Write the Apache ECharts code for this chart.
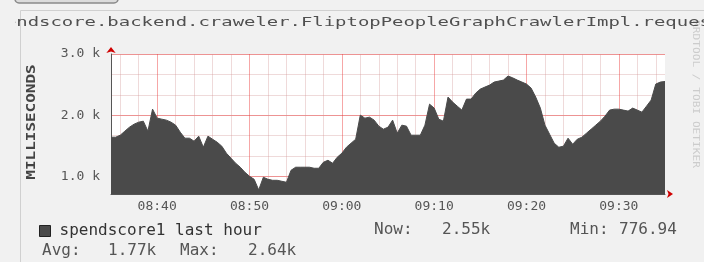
<!DOCTYPE html>
<html>
<head>
<meta charset="utf-8">
<title>spendscore1 last hour</title>
<script src="https://cdn.jsdelivr.net/npm/echarts@6/dist/echarts.min.js"></script>
<style>
    html, body { margin: 0; padding: 0; background: #f1f1f1; }
    #chart { width: 704px; height: 262px; }
</style>
</head>
<body>
<div id="chart"></div>
<script>
// sample times, one every 30s over the last hour
var times = [
    '08:35:00','08:35:30','08:36:00','08:36:30','08:37:00','08:37:30','08:38:00','08:38:30','08:39:00','08:39:30',
    '08:40:00','08:40:30','08:41:00','08:41:30','08:42:00','08:42:30','08:43:00','08:43:30','08:44:00','08:44:30',
    '08:45:00','08:45:30','08:46:00','08:46:30','08:47:00','08:47:30','08:48:00','08:48:30','08:49:00','08:49:30',
    '08:50:00','08:50:30','08:51:00','08:51:30','08:52:00','08:52:30','08:53:00','08:53:30','08:54:00','08:54:30',
    '08:55:00','08:55:30','08:56:00','08:56:30','08:57:00','08:57:30','08:58:00','08:58:30','08:59:00','08:59:30',
    '09:00:00','09:00:30','09:01:00','09:01:30','09:02:00','09:02:30','09:03:00','09:03:30','09:04:00','09:04:30',
    '09:05:00','09:05:30','09:06:00','09:06:30','09:07:00','09:07:30','09:08:00','09:08:30','09:09:00','09:09:30',
    '09:10:00','09:10:30','09:11:00','09:11:30','09:12:00','09:12:30','09:13:00','09:13:30','09:14:00','09:14:30',
    '09:15:00','09:15:30','09:16:00','09:16:30','09:17:00','09:17:30','09:18:00','09:18:30','09:19:00','09:19:30',
    '09:20:00','09:20:30','09:21:00','09:21:30','09:22:00','09:22:30','09:23:00','09:23:30','09:24:00','09:24:30',
    '09:25:00','09:25:30','09:26:00','09:26:30','09:27:00','09:27:30','09:28:00','09:28:30','09:29:00','09:29:30',
    '09:30:00','09:30:30','09:31:00','09:31:30','09:32:00','09:32:30','09:33:00','09:33:30','09:34:00','09:34:30',
    '09:35:00'
];
// milliseconds
var latency = [
    1639, 1639, 1672, 1738, 1803, 1852, 1885, 1901, 1738, 2098,
    1951, 1934, 1918, 1885, 1836, 1721, 1623, 1623, 1574, 1656,
    1475, 1656, 1606, 1557, 1492, 1377, 1295, 1213, 1148, 1066,
    1000,  951,  777,  984,  951,  934,  934,  918,  902, 1098,
    1148, 1148, 1148, 1148, 1131, 1131, 1229, 1262, 1213, 1311,
    1377, 1475, 1541, 1606, 2000, 1951, 1967, 1918, 1820, 1770,
    1803, 1918, 1705, 1836, 1820, 1672, 1672, 1672, 1836, 2180,
    2115, 1934, 1901, 2295, 2213, 2147, 2082, 2262, 2262, 2360,
    2426, 2459, 2491, 2541, 2557, 2573, 2640, 2610, 2573, 2541,
    2508, 2442, 2295, 2115, 1836, 1688, 1541, 1475, 1492, 1623,
    1524, 1606, 1639, 1705, 1770, 1836, 1901, 1983, 2082, 2098,
    2098, 2082, 2066, 2115, 2082, 2049, 2147, 2246, 2508, 2541,
    2550
];
var yTickLabels = ['3.0 k', '2.0 k', '1.0 k'];
var yMin = 710, yMax = 3000;
var seriesName = 'spendscore1 last hour';
var statNames = ['Now:', 'Min:', 'Avg:', 'Max:'];
var statValues = ['2.55k', '776.94', '1.77k', '2.64k'];

var mono = 'DejaVu Sans Mono';
var minorColor = 'rgba(210,150,150,0.35)';
var majorColor = 'rgba(235,60,60,0.45)';
var areaColor = '#4a4a4a';

function minuteOf(v) { return parseInt(v.slice(3, 5), 10); }
function onMinute(v) { return v.slice(6) === '00'; }

var myChart = echarts.init(document.getElementById('chart'));
var option = {
    backgroundColor: '#f1f1f1',
    animation: false,
    grid: {
        left: 111, top: 54, width: 554, height: 140,
        show: true, backgroundColor: '#ffffff', borderWidth: 0
    },
    legend: {
        data: [seriesName],
        left: 39, top: 223, padding: 0,
        icon: 'rect', itemWidth: 11, itemHeight: 11,
        itemStyle: { borderColor: '#222', borderWidth: 1 },
        textStyle: { fontFamily: mono, fontSize: 16, color: '#333', padding: [0, 0, 0, 4] }
    },
    xAxis: [
        {   // major grid (every 10 minutes) + red arrow
            type: 'category',
            position: 'bottom',
            data: times,
            boundaryGap: false,
            axisLine: {
                show: true, onZero: false,
                symbol: ['none', 'arrow'], symbolSize: [6, 6], symbolOffset: [0, 8],
                lineStyle: { color: '#d00000', width: 0 }
            },
            axisTick: { show: false },
            axisLabel: { show: false },
            splitLine: {
                show: true,
                interval: function (i, v) { return onMinute(v) && minuteOf(v) % 10 === 0; },
                lineStyle: { color: majorColor, width: 1 }
            }
        },
        {   // labels + minor grid (every 2 minutes) + axis line
            type: 'category',
            position: 'bottom',
            data: times,
            boundaryGap: false,
            axisLine: { show: true, onZero: false, lineStyle: { color: '#555', width: 1 } },
            axisTick: { show: false },
            axisLabel: {
                interval: function (i, v) { return onMinute(v) && minuteOf(v) % 10 === 0; },
                formatter: function (v) { return v.slice(0, 5); },
                fontFamily: mono, fontSize: 13, color: '#555', margin: 6
            },
            splitLine: {
                show: true,
                interval: function (i, v) { return onMinute(v) && minuteOf(v) % 2 === 0 && minuteOf(v) % 10 !== 0; },
                lineStyle: { color: minorColor, width: 1 }
            }
        }
    ],
    yAxis: [
        {   // data axis
            type: 'value',
            position: 'left',
            min: yMin, max: yMax,
            axisLine: {
                show: true, onZero: false,
                symbol: ['none', 'arrow'], symbolSize: [7, 6], symbolOffset: [0, 7],
                lineStyle: { color: '#d00000', width: 0 }
            },
            axisTick: { show: false },
            axisLabel: { show: false },
            splitLine: { show: false }
        },
        {   // minor grid, counted down from the top
            type: 'value',
            position: 'left',
            inverse: true,
            min: 0, max: yMax - yMin, interval: 1000 / 3,
            axisLine: { show: false, onZero: false },
            axisTick: { show: false },
            axisLabel: { show: false },
            splitLine: { show: true, showMaxLine: false, lineStyle: { color: minorColor, width: 1 } }
        },
        {   // major grid + labels
            type: 'value',
            position: 'left',
            inverse: true,
            min: 0, max: yMax - yMin, interval: 1000,
            axisLine: { show: true, onZero: false, lineStyle: { color: '#555', width: 1 } },
            axisTick: { show: false },
            axisLabel: {
                formatter: function (v, i) { return i < yTickLabels.length ? yTickLabels[i] : ''; },
                fontFamily: mono, fontSize: 13, color: '#555', margin: 11
            },
            splitLine: { show: true, showMaxLine: false, lineStyle: { color: majorColor, width: 1 } }
        }
    ],
    graphic: [
        // page frame bits
        { type: 'rect', shape: { x: 15, y: -10, width: 103, height: 13, r: 4 },
          style: { fill: '#dcdcdc', stroke: '#8a8a8a', lineWidth: 1.5 } },
        { type: 'line', shape: { x1: 20.5, y1: 10.5, x2: 704, y2: 10.5 }, style: { stroke: '#d0d0d0', lineWidth: 1 } },
        { type: 'line', shape: { x1: 20.5, y1: 10.5, x2: 20.5, y2: 262 }, style: { stroke: '#d0d0d0', lineWidth: 1 } },
        // title, clipped by the page on both sides
        { type: 'text', x: -17.9, y: 23, scaleX: 1.455, z: 10,
          style: { text: 'spendscore.backend.craweler.FliptopPeopleGraphCrawlerImpl.request',
                   fontFamily: mono, fontSize: 13, fill: '#505050', verticalAlign: 'middle' } },
        { type: 'rect', shape: { x: 0, y: 12, width: 15, height: 24 }, z: 11,
          style: { fill: '#f1f1f1' } },
        // vertical axis name
        { type: 'text', x: 32, y: 122, rotation: Math.PI / 2, scaleX: 1.33,
          style: { text: 'MILLISECONDS', fontFamily: mono, fontSize: 12, fontWeight: 'bold',
                   fill: '#444', align: 'center', verticalAlign: 'middle' } },
        // rrdtool watermark
        { type: 'text', x: 695, y: 94, rotation: -Math.PI / 2, scaleX: 1.24,
          style: { text: 'RRDTOOL / TOBI OETIKER', fontFamily: mono, fontSize: 9,
                   fill: '#cccccc', align: 'center', verticalAlign: 'middle' } },
        // gprint lines
        { type: 'text', x: 374, y: 230, style: { text: statNames[0], fontFamily: mono, fontSize: 16, fill: '#555', verticalAlign: 'middle' } },
        { type: 'text', x: 442, y: 230, style: { text: statValues[0], fontFamily: mono, fontSize: 16, fill: '#555', verticalAlign: 'middle' } },
        { type: 'text', x: 570, y: 230, style: { text: statNames[1], fontFamily: mono, fontSize: 16, fill: '#555', verticalAlign: 'middle' } },
        { type: 'text', x: 619, y: 230, style: { text: statValues[1], fontFamily: mono, fontSize: 16, fill: '#555', verticalAlign: 'middle' } },
        { type: 'text', x: 42, y: 251, style: { text: statNames[2], fontFamily: mono, fontSize: 16, fill: '#555', verticalAlign: 'middle' } },
        { type: 'text', x: 108, y: 251, style: { text: statValues[2], fontFamily: mono, fontSize: 16, fill: '#555', verticalAlign: 'middle' } },
        { type: 'text', x: 180, y: 251, style: { text: statNames[3], fontFamily: mono, fontSize: 16, fill: '#555', verticalAlign: 'middle' } },
        { type: 'text', x: 248, y: 251, style: { text: statValues[3], fontFamily: mono, fontSize: 16, fill: '#555', verticalAlign: 'middle' } }
    ],
    series: [
        {
            name: seriesName,
            type: 'line',
            xAxisIndex: 0,
            yAxisIndex: 0,
            data: latency,
            showSymbol: false,
            symbol: 'none',
            lineStyle: { color: areaColor, width: 1 },
            itemStyle: { color: areaColor },
            areaStyle: { color: areaColor, opacity: 1 }
        }
    ]
};
myChart.setOption(option);
</script>
</body>
</html>
